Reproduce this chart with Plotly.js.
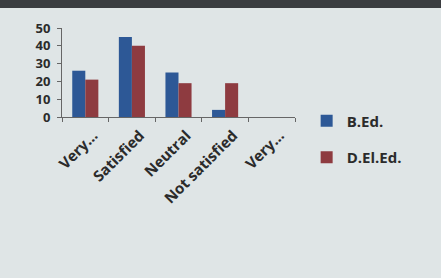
<!DOCTYPE html>
<html>
<head>
<meta charset="utf-8">
<script src="https://cdn.plot.ly/plotly-3.0.1.min.js"></script>
<style>html,body{margin:0;padding:0;background:#dfe5e6;}#chart{width:441px;height:278px;}</style>
</head>
<body>
<div id="chart"></div>
<script>
var categories = ["Very satisfied", "Satisfied", "Neutral", "Not satisfied", "Very dissatisfied"];
var tickLabels = ["Very…", "Satisfied", "Neutral", "Not satisfied", "Very…"];
var bedValues = [26, 45, 25, 4, 0];
var deledValues = [21, 40, 19, 19, 0];
var seriesNames = ["B.Ed.", "D.El.Ed."];

var traces = [
  {type: "bar", x: categories, y: bedValues, name: seriesNames[0], legendgroup: "a",
   marker: {color: "#2d5896"}},
  {type: "bar", x: categories, y: deledValues, name: seriesNames[1], legendgroup: "b",
   marker: {color: "#8e3b40"}}
];

var layout = {
  width: 441, height: 278,
  paper_bgcolor: "#dfe5e6", plot_bgcolor: "rgba(0,0,0,0)",
  margin: {l: 62, r: 146, t: 28, b: 161},
  barmode: "group", bargap: 0.44, bargroupgap: 0,
  font: {family: "Open Sans, sans-serif", color: "#333"},
  xaxis: {
    type: "category", tickvals: categories, ticktext: tickLabels,
    tickangle: -45, tickson: "boundaries", ticks: "outside", ticklen: 4,
    tickcolor: "#666", showline: true, linecolor: "#666", linewidth: 1,
    showgrid: false, zeroline: false, ticklabelshift: 8, ticklabelstandoff: 3,
    tickfont: {size: 15, color: "#2b2b2b", family: "Open Sans, sans-serif", weight: "bold"}
  },
  yaxis: {
    range: [0, 50], dtick: 10, ticks: "outside", ticklen: 4, tickcolor: "#666",
    showline: true, linecolor: "#666", linewidth: 1, showgrid: false, zeroline: false,
    ticklabelstandoff: 4,
    tickfont: {size: 13, color: "#2b2b2b", family: "Open Sans, sans-serif", weight: "bold"}
  },
  legend: {
    x: 1.05, xanchor: "left", y: 0.14, yanchor: "top", xref: "paper",
    orientation: "v", traceorder: "grouped", tracegroupgap: 14,
    bgcolor: "rgba(0,0,0,0)",
    font: {size: 15, color: "#2b2b2b", weight: "bold"},
    itemwidth: 30
  },
  showlegend: true,
  shapes: [
    {type: "rect", xref: "paper", yref: "paper", x0: -0.3, x1: 1.7, y0: 1.225, y1: 1.5,
     fillcolor: "#3a3d40", line: {width: 0}, layer: "below"}
  ]
};

Plotly.newPlot("chart", traces, layout, {staticPlot: true, displayModeBar: false});
</script>
</body>
</html>
